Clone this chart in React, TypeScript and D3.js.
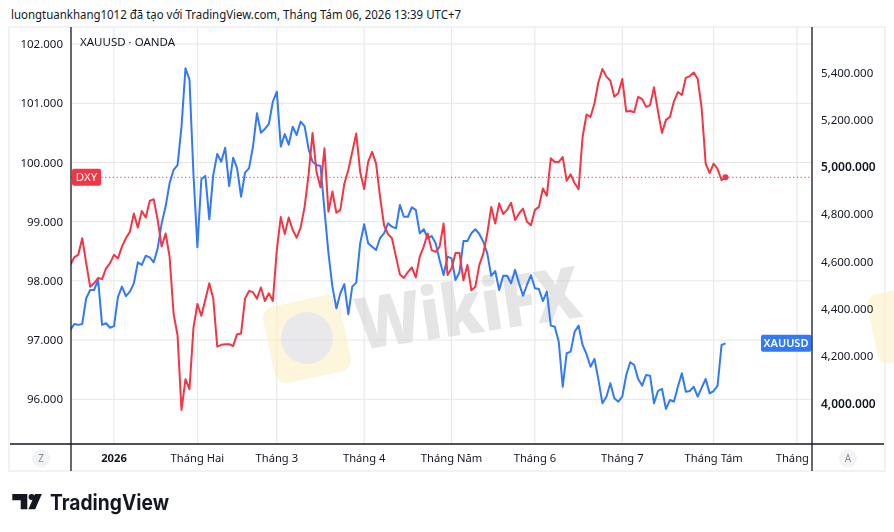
import React, { useEffect, useRef } from 'react';
import * as d3 from 'd3';

// bar index (trading days) of the first value below; bar 0 = first session of 2026
const firstBar = -11;

// DXY closes, one per trading day (left scale)
const dxyValues = [
  98.27, 98.40, 98.44, 98.72, 98.30, 97.90, 97.96, 98.05, 98.03, 98.21,
  98.30, 98.44, 98.38, 98.58, 98.72, 98.83, 99.14, 98.90, 99.18, 99.07,
  99.35, 99.38, 99.03, 98.58, 98.80, 98.41, 97.45, 97.08, 95.82, 96.34,
  96.17, 97.20, 97.61, 97.41, 97.68, 97.96, 97.70, 96.89, 96.92, 96.93,
  96.93, 96.90, 97.10, 97.11, 97.70, 97.83, 97.81, 97.70, 97.89, 97.66,
  97.79, 97.66, 98.52, 99.08, 98.79, 99.07, 98.86, 98.73, 98.90, 99.25,
  99.79, 100.50, 99.84, 99.58, 100.24, 99.17, 99.51, 99.15, 99.20, 99.64,
  99.87, 100.18, 100.49, 99.84, 99.55, 100.01, 100.18, 99.98, 99.42, 98.94,
  98.79, 98.72, 98.41, 98.11, 98.05, 98.15, 98.23, 98.06, 98.41, 98.58,
  98.80, 98.52, 98.49, 98.58, 98.97, 98.10, 98.21, 98.47, 98.47, 98.01,
  98.27, 97.84, 97.90, 98.27, 98.46, 98.80, 99.25, 98.97, 99.31, 99.13,
  99.20, 99.32, 99.03, 99.14, 99.22, 99.00, 98.94, 99.20, 99.25, 99.56,
  99.44, 100.07, 100.01, 100.01, 100.09, 99.69, 99.80, 99.65, 99.55, 100.43,
  100.81, 100.77, 101.00, 101.36, 101.58, 101.45, 101.38, 101.11, 101.17, 101.41,
  100.86, 100.87, 100.85, 101.11, 101.07, 100.94, 100.97, 101.27, 100.86, 100.50,
  100.72, 100.77, 101.03, 101.19, 101.14, 101.43, 101.46, 101.52, 101.41, 100.91,
  99.98, 99.82, 99.98, 99.89, 99.70, 99.75,
];

// XAUUSD closes, one per trading day (right scale)
const xauValues = [
  4310, 4336, 4332, 4336, 4445, 4480, 4480, 4522, 4332, 4339,
  4320, 4327, 4451, 4494, 4454, 4473, 4508, 4597, 4586, 4625,
  4618, 4597, 4656, 4762, 4833, 4932, 4988, 5009, 5171, 5419,
  5372, 4974, 4661, 4949, 4963, 4779, 4967, 5056, 5023, 5082,
  4920, 5040, 4995, 4875, 4977, 4995, 5087, 5228, 5146, 5162,
  5183, 5277, 5320, 5087, 5140, 5095, 5171, 5136, 5193, 5174,
  5077, 5023, 5009, 5005, 4819, 4637, 4494, 4402, 4466, 4505,
  4377, 4494, 4511, 4678, 4758, 4678, 4663, 4649, 4699, 4720,
  4762, 4748, 4741, 4840, 4790, 4790, 4830, 4819, 4720, 4737,
  4699, 4708, 4678, 4607, 4543, 4621, 4614, 4522, 4555, 4687,
  4687, 4720, 4737, 4717, 4684, 4635, 4540, 4560, 4480, 4540,
  4540, 4508, 4565, 4508, 4456, 4501, 4543, 4487, 4484, 4433,
  4473, 4329, 4324, 4261, 4070, 4212, 4219, 4303, 4329, 4247,
  4208, 4155, 4188, 4099, 4000, 4028, 4085, 4021, 4007, 4028,
  4120, 4174, 4162, 4103, 4075, 4120, 4117, 4000, 4053, 4061,
  3976, 4014, 4007, 4070, 4127, 4049, 4052, 4070, 4028, 4066,
  4103, 4042, 4052, 4075, 4247, 4254,
];

const monthLabels = ["2026", "Tháng Hai", "Tháng 3", "Tháng 4", "Tháng Năm", "Tháng 6", "Tháng 7", "Tháng Tám", "Tháng 9"];
const monthBars = [0, 21, 41, 63, 85, 106, 128, 151, 172];

const dxyTicks = [96, 97, 98, 99, 100, 101, 102];
const xauTicks = [4000, 4200, 4400, 4600, 4800, 5000, 5200, 5400];

const headerText = "luongtuankhang1012 đã tạo với TradingView.com, Tháng Tám 06, 2026 13:39 UTC+7";

const TvChart = () => {
  const svgRef = useRef<SVGSVGElement | null>(null);

  useEffect(() => {
    if (!svgRef.current) return;
    const width = 894;
    const height = 532;
    const font = "'Noto Sans', sans-serif";
    const ink = "#131722";
    const red = "#f23645";
    const blue = "#3179f5";
    const grid = "#e4e6ea";

    const svg = d3.select(svgRef.current);
    svg.attr("width", width).attr("height", height).attr("viewBox", `0 0 ${width} ${height}`);
    svg.selectAll("*").remove();

    // pane geometry
    const left = 71, right = 812, top = 27, bottom = 444, rowBottom = 471;

    const x = d3.scaleLinear()
      .domain([monthBars[0], monthBars[monthBars.length - 1]])
      .range([114, 797]);
    const yL = d3.scaleLinear().domain([96, 102]).range([399.3, 44.1]);
    const yR = d3.scaleLinear().domain([4000, 5400]).range([403.3, 72.7]);

    svg.append("rect").attr("width", width).attr("height", height).attr("fill", "#ffffff");

    // header
    svg.append("text")
      .attr("x", 11).attr("y", 18.5)
      .attr("fill", ink)
      .style("font-family", font).style("font-size", "11.8px")
      .attr("textLength", 450).attr("lengthAdjust", "spacingAndGlyphs")
      .text(headerText);

    // outer frame
    svg.append("rect")
      .attr("x", 9).attr("y", top).attr("width", 876).attr("height", rowBottom - top)
      .attr("fill", "none").attr("stroke", "#f0f2f5").attr("stroke-width", 2);

    const defs = svg.append("defs");
    defs.append("clipPath").attr("id", "pane")
      .append("rect").attr("x", left).attr("y", top).attr("width", right - left).attr("height", bottom - top);
    defs.append("clipPath").attr("id", "timeRow")
      .append("rect").attr("x", left).attr("y", bottom).attr("width", right - left).attr("height", rowBottom - bottom);

    // grid
    const g = svg.append("g");
    dxyTicks.forEach(t => {
      g.append("line")
        .attr("x1", left).attr("x2", right)
        .attr("y1", yL(t)).attr("y2", yL(t))
        .attr("stroke", grid).attr("stroke-width", 1);
    });
    monthBars.forEach(b => {
      g.append("line")
        .attr("x1", x(b)).attr("x2", x(b))
        .attr("y1", top).attr("y2", bottom)
        .attr("stroke", grid).attr("stroke-width", 1);
    });

    // watermark
    const wm = svg.append("g").attr("opacity", 0.55);
    wm.append("rect")
      .attr("x", 268).attr("y", 300).attr("width", 78).attr("height", 78).attr("rx", 12)
      .attr("transform", "rotate(-12 307 339)")
      .attr("fill", "#fbeec0");
    wm.append("circle").attr("cx", 307).attr("cy", 338).attr("r", 26).attr("fill", "#d8d8dc");
    wm.append("text")
      .attr("x", 360).attr("y", 350)
      .attr("transform", "rotate(-8.5 360 350)")
      .attr("fill", "#cfcfcf")
      .style("font-family", "'Open Sans', sans-serif").style("font-weight", 800).style("font-size", "72px")
      .attr("textLength", 226).attr("lengthAdjust", "spacingAndGlyphs")
      .text("WikiFX");
    wm.append("rect")
      .attr("x", 872).attr("y", 292).attr("width", 60).attr("height", 70).attr("rx", 10)
      .attr("transform", "rotate(-12 890 327)")
      .attr("fill", "#fbeec0");

    const pane = svg.append("g").attr("clip-path", "url(#pane)");

    // DXY last-price line
    const lastDxy = dxyValues[dxyValues.length - 1];
    pane.append("line")
      .attr("x1", left).attr("x2", right)
      .attr("y1", yL(lastDxy)).attr("y2", yL(lastDxy))
      .attr("stroke", red).attr("stroke-width", 1)
      .attr("stroke-dasharray", "1.2 2.6");

    const xauLine = d3.line<number>()
      .x((_, i) => x(firstBar + i))
      .y(d => yR(d));
    const dxyLine = d3.line<number>()
      .x((_, i) => x(firstBar + i))
      .y(d => yL(d));

    pane.append("path")
      .attr("d", xauLine(xauValues))
      .attr("fill", "none").attr("stroke", blue).attr("stroke-width", 2)
      .attr("stroke-linejoin", "round");
    pane.append("path")
      .attr("d", dxyLine(dxyValues))
      .attr("fill", "none").attr("stroke", red).attr("stroke-width", 2)
      .attr("stroke-linejoin", "round");

    pane.append("circle")
      .attr("cx", x(firstBar + dxyValues.length - 1))
      .attr("cy", yL(lastDxy))
      .attr("r", 3).attr("fill", red);

    // price tags
    const lastXau = xauValues[xauValues.length - 1];
    svg.append("rect")
      .attr("x", 761).attr("y", yR(lastXau) - 8.5).attr("width", 50.5).attr("height", 17).attr("rx", 2)
      .attr("fill", blue);
    svg.append("text")
      .attr("x", 786).attr("y", yR(lastXau)).attr("dy", "0.35em")
      .attr("text-anchor", "middle").attr("fill", "#ffffff")
      .style("font-family", font).style("font-size", "11px").style("font-weight", 600)
      .text("XAUUSD");
    svg.append("rect")
      .attr("x", 72).attr("y", yL(lastDxy) - 8.5).attr("width", 29).attr("height", 17).attr("rx", 2)
      .attr("fill", red);
    svg.append("text")
      .attr("x", 86.5).attr("y", yL(lastDxy)).attr("dy", "0.35em")
      .attr("text-anchor", "middle").attr("fill", "#ffffff")
      .style("font-family", font).style("font-size", "11.5px")
      .text("DXY");

    // axis lines
    svg.append("line").attr("x1", left).attr("x2", left).attr("y1", top).attr("y2", rowBottom)
      .attr("stroke", ink).attr("stroke-width", 1.3);
    svg.append("line").attr("x1", right).attr("x2", right).attr("y1", top).attr("y2", rowBottom)
      .attr("stroke", ink).attr("stroke-width", 1.3);
    svg.append("line").attr("x1", 10).attr("x2", 884).attr("y1", bottom).attr("y2", bottom)
      .attr("stroke", ink).attr("stroke-width", 1.3);

    // left scale (DXY)
    const fmtL = d3.format(".3f");
    dxyTicks.forEach(t => {
      svg.append("text")
        .attr("x", 63).attr("y", yL(t)).attr("dy", "0.35em")
        .attr("text-anchor", "end").attr("fill", ink)
        .style("font-family", font).style("font-size", "11.5px")
        .text(fmtL(t));
    });

    // right scale (XAUUSD)
    const fmtR = d3.format(",.3f");
    xauTicks.forEach(t => {
      const round = t % 1000 === 0;
      svg.append("text")
        .attr("x", 821).attr("y", yR(t)).attr("dy", "0.35em")
        .attr("fill", ink)
        .style("font-family", font)
        .style("font-size", round ? "12px" : "11.5px")
        .style("font-weight", round ? 600 : 400)
        .text(fmtR(t));
    });

    // time scale
    const timeRow = svg.append("g").attr("clip-path", "url(#timeRow)");
    monthLabels.forEach((label, i) => {
      timeRow.append("text")
        .attr("x", x(monthBars[i])).attr("y", 458).attr("dy", "0.35em")
        .attr("text-anchor", "middle").attr("fill", ink)
        .style("font-family", font).style("font-size", "11.2px")
        .style("font-weight", i === 0 ? 700 : 400)
        .text(label);
    });

    // scale mode buttons
    [["Z", 41], ["A", 848]].forEach(([label, cx]) => {
      svg.append("circle").attr("cx", cx as number).attr("cy", 458.5).attr("r", 9).attr("fill", "#f2f3f5");
      svg.append("text")
        .attr("x", cx as number).attr("y", 458.5).attr("dy", "0.35em")
        .attr("text-anchor", "middle").attr("fill", "#8a8e99")
        .style("font-family", font).style("font-size", "10px")
        .text(label as string);
    });

    // legend
    svg.append("text")
      .attr("x", 80).attr("y", 42).attr("dy", "0.35em")
      .attr("fill", ink)
      .style("font-family", font).style("font-size", "11.5px")
      .text("XAUUSD · OANDA");

    // TradingView logo
    const logo = svg.append("g").attr("fill", ink);
    logo.append("path").attr("d", "M12.3,494 H27.3 V509.3 H20.7 V500.3 H12.3 Z");
    logo.append("circle").attr("cx", 31.6).attr("cy", 497).attr("r", 3);
    logo.append("path").attr("d", "M35,494 H41.8 L35.2,509.3 H28.4 Z");
    logo.append("text")
      .attr("x", 50).attr("y", 509.5)
      .style("font-family", "Inter, sans-serif").style("font-size", "21px").style("font-weight", 700)
      .attr("textLength", 119).attr("lengthAdjust", "spacingAndGlyphs")
      .text("TradingView");
  }, []);

  return (
    <div style={{ position: "fixed", left: 0, top: 0, width: 894, height: 532, background: "#fff" }}>
      <svg ref={svgRef} style={{ display: "block" }}></svg>
    </div>
  );
};

export default TvChart;
